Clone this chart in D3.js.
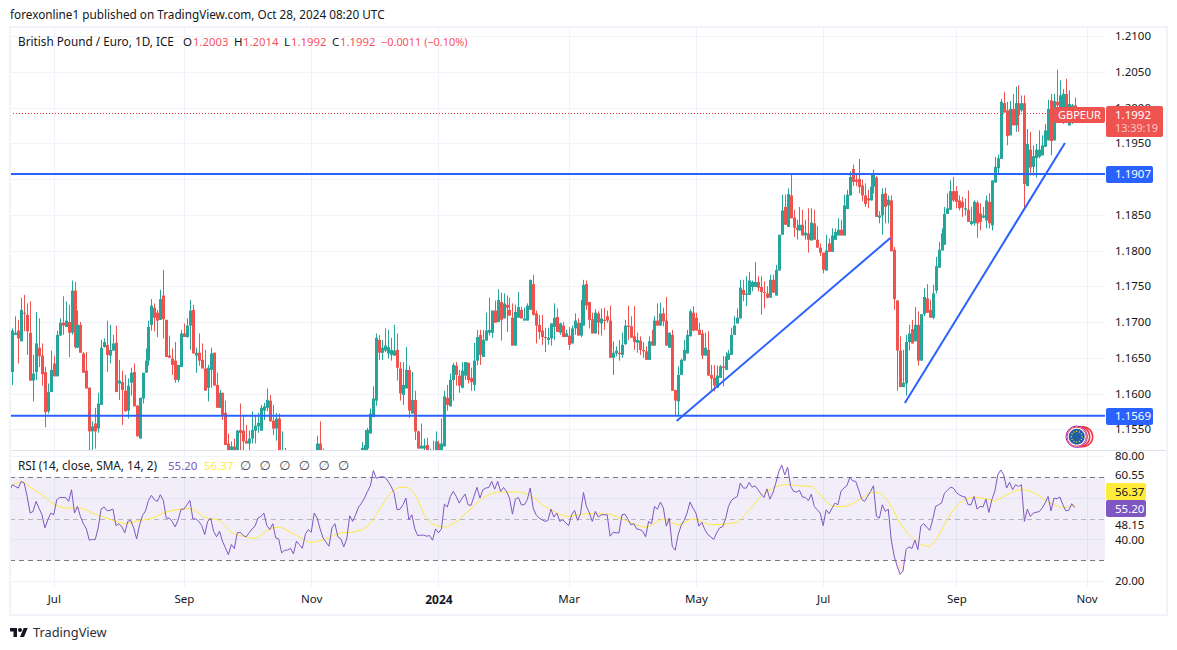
<!DOCTYPE html>
<html>
<head>
<meta charset="utf-8">
<script src="https://cdn.jsdelivr.net/npm/d3@7/dist/d3.min.js"></script>
<style>
  html, body { margin: 0; padding: 0; background: #fff; }
  svg { display: block; }
  text { font-family: "Noto Sans", "DejaVu Sans", sans-serif; }
</style>
</head>
<body>
<div id="chart"></div>
<script>
// daily candles (the ones under the pane edge are guesses)
const opens = [
  1.1688,1.1630,1.1682,1.1688,1.1673,1.1713,1.1710,1.1685,1.1618,1.1630,
  1.1664,1.1653,1.1630,1.1575,1.1602,1.1642,1.1624,1.1681,1.1699,1.1693,
  1.1700,1.1685,1.1744,1.1664,1.1696,1.1656,1.1632,1.1608,1.1547,1.1558,
  1.1551,1.1584,1.1665,1.1668,1.1653,1.1660,1.1671,1.1614,1.1616,1.1604,
  1.1576,1.1615,1.1630,1.1583,1.1537,1.1593,1.1629,1.1646,1.1696,1.1720,
  1.1713,1.1703,1.1737,1.1703,1.1653,1.1649,1.1646,1.1619,1.1637,1.1684,
  1.1679,1.1695,1.1717,1.1653,1.1657,1.1647,1.1635,1.1608,1.1633,1.1657,
  1.1612,1.1580,1.1601,1.1573,1.1530,1.1519,1.1526,1.1519,1.1549,1.1548,
  1.1534,1.1530,1.1537,1.1548,1.1554,1.1548,1.1576,1.1580,1.1590,1.1562,
  1.1551,1.1565,1.1510,1.1515,1.1500,1.1495,1.1505,1.1500,1.1485,1.1492,
  1.1488,1.1498,1.1490,1.1508,1.1515,1.1530,1.1512,1.1500,1.1495,1.1505,
  1.1500,1.1492,1.1498,1.1503,1.1496,1.1501,1.1507,1.1502,1.1506,1.1512,
  1.1519,1.1523,1.1544,1.1567,1.1590,1.1675,1.1657,1.1660,1.1656,1.1654,
  1.1653,1.1661,1.1635,1.1598,1.1607,1.1633,1.1572,1.1591,1.1547,1.1523,
  1.1523,1.1528,1.1510,1.1520,1.1519,1.1530,1.1519,1.1526,1.1594,1.1582,
  1.1619,1.1639,1.1625,1.1608,1.1625,1.1643,1.1622,1.1612,1.1646,1.1682,
  1.1651,1.1674,1.1685,1.1685,1.1716,1.1700,1.1728,1.1705,1.1724,1.1717,
  1.1706,1.1667,1.1706,1.1717,1.1702,1.1702,1.1717,1.1753,1.1712,1.1696,
  1.1688,1.1679,1.1675,1.1677,1.1693,1.1707,1.1685,1.1695,1.1679,1.1681,
  1.1670,1.1691,1.1699,1.1681,1.1695,1.1753,1.1728,1.1704,1.1684,1.1712,
  1.1698,1.1703,1.1708,1.1702,1.1650,1.1656,1.1657,1.1654,1.1669,1.1695,
  1.1694,1.1680,1.1671,1.1674,1.1661,1.1659,1.1647,1.1673,1.1667,1.1702,
  1.1695,1.1712,1.1702,1.1664,1.1682,1.1605,1.1589,1.1626,1.1646,1.1656,
  1.1680,1.1713,1.1706,1.1689,1.1684,1.1653,1.1661,1.1626,1.1622,1.1608,
  1.1622,1.1638,1.1633,1.1647,1.1654,1.1682,1.1698,1.1705,1.1745,1.1738,
  1.1738,1.1749,1.1749,1.1756,1.1749,1.1742,1.1740,1.1734,1.1759,1.1737,
  1.1772,1.1822,1.1861,1.1833,1.1877,1.1846,1.1832,1.1828,1.1836,1.1821,
  1.1824,1.1814,1.1838,1.1815,1.1804,1.1797,1.1772,1.1810,1.1798,1.1815,
  1.1821,1.1829,1.1821,1.1858,1.1877,1.1914,1.1899,1.1900,1.1891,1.1877,
  1.1873,1.1870,1.1889,1.1902,1.1846,1.1849,1.1880,1.1863,1.1870,1.1801,
  1.1730,1.1660,1.1609,1.1614,1.1672,1.1690,1.1673,1.1696,1.1646,1.1711,
  1.1733,1.1717,1.1706,1.1744,1.1776,1.1800,1.1808,1.1851,1.1857,1.1883,
  1.1883,1.1870,1.1868,1.1857,1.1857,1.1837,1.1838,1.1867,1.1852,1.1846,
  1.1842,1.1868,1.1835,1.1895,1.1915,1.1928,1.2006,1.1996,1.1961,1.1998,
  1.1975,1.2006,1.1996,1.2006,1.1890,1.1941,1.1917,1.1929,1.1931,1.1933,
  1.1945,1.1954,1.2010,1.1954,1.2008,1.1989,1.1996,1.2019,1.1975,1.1980,1.2003
];
const highs = [
  1.1691,1.1691,1.1708,1.1703,1.1734,1.1738,1.1726,1.1729,1.1654,1.1714,
  1.1705,1.1670,1.1637,1.1614,1.1660,1.1653,1.1688,1.1705,1.1736,1.1729,
  1.1724,1.1758,1.1756,1.1716,1.1700,1.1658,1.1658,1.1609,1.1561,1.1580,
  1.1601,1.1675,1.1677,1.1702,1.1696,1.1682,1.1695,1.1647,1.1632,1.1626,
  1.1621,1.1636,1.1642,1.1584,1.1594,1.1629,1.1663,1.1702,1.1732,1.1726,
  1.1717,1.1745,1.1773,1.1703,1.1681,1.1663,1.1672,1.1640,1.1689,1.1698,
  1.1705,1.1731,1.1724,1.1664,1.1684,1.1670,1.1661,1.1640,1.1664,1.1657,
  1.1629,1.1605,1.1601,1.1590,1.1544,1.1533,1.1537,1.1549,1.1586,1.1570,
  1.1556,1.1548,1.1575,1.1569,1.1573,1.1584,1.1587,1.1607,1.1598,1.1584,
  1.1573,1.1572,1.1547,1.1524,1.1515,1.1512,1.1518,1.1510,1.1500,1.1510,
  1.1505,1.1512,1.1512,1.1519,1.1541,1.1561,1.1523,1.1515,1.1510,1.1517,
  1.1512,1.1505,1.1513,1.1516,1.1508,1.1514,1.1518,1.1514,1.1518,1.1532,
  1.1549,1.1552,1.1579,1.1610,1.1684,1.1682,1.1675,1.1691,1.1689,1.1678,
  1.1696,1.1684,1.1644,1.1644,1.1665,1.1639,1.1630,1.1604,1.1548,1.1558,
  1.1537,1.1538,1.1523,1.1534,1.1547,1.1534,1.1565,1.1604,1.1612,1.1628,
  1.1643,1.1644,1.1633,1.1644,1.1644,1.1643,1.1636,1.1671,1.1689,1.1689,
  1.1689,1.1713,1.1734,1.1716,1.1730,1.1746,1.1741,1.1740,1.1737,1.1734,
  1.1726,1.1724,1.1742,1.1721,1.1720,1.1726,1.1759,1.1766,1.1716,1.1710,
  1.1710,1.1692,1.1692,1.1698,1.1726,1.1719,1.1699,1.1700,1.1689,1.1693,
  1.1695,1.1712,1.1705,1.1731,1.1759,1.1758,1.1728,1.1713,1.1718,1.1715,
  1.1719,1.1720,1.1716,1.1723,1.1673,1.1666,1.1675,1.1685,1.1703,1.1723,
  1.1708,1.1722,1.1685,1.1680,1.1672,1.1666,1.1680,1.1689,1.1708,1.1726,
  1.1727,1.1720,1.1735,1.1685,1.1689,1.1605,1.1638,1.1649,1.1675,1.1689,
  1.1718,1.1722,1.1713,1.1699,1.1689,1.1685,1.1687,1.1640,1.1640,1.1639,
  1.1640,1.1652,1.1658,1.1661,1.1692,1.1708,1.1719,1.1759,1.1759,1.1764,
  1.1770,1.1758,1.1784,1.1764,1.1764,1.1757,1.1750,1.1766,1.1766,1.1780,
  1.1822,1.1878,1.1878,1.1887,1.1907,1.1857,1.1843,1.1861,1.1857,1.1843,
  1.1859,1.1859,1.1857,1.1834,1.1810,1.1797,1.1822,1.1817,1.1831,1.1831,
  1.1845,1.1843,1.1878,1.1885,1.1911,1.1920,1.1908,1.1928,1.1899,1.1894,
  1.1885,1.1906,1.1913,1.1904,1.1855,1.1887,1.1888,1.1877,1.1877,1.1805,
  1.1731,1.1680,1.1661,1.1682,1.1696,1.1703,1.1721,1.1715,1.1711,1.1747,
  1.1753,1.1731,1.1752,1.1791,1.1812,1.1831,1.1861,1.1880,1.1898,1.1903,
  1.1890,1.1877,1.1875,1.1873,1.1884,1.1861,1.1870,1.1870,1.1866,1.1861,
  1.1877,1.1880,1.1898,1.1931,1.1934,1.2012,1.2022,1.2008,1.2009,1.2019,
  1.2029,1.2031,1.2017,1.2017,1.1970,1.1966,1.1947,1.1949,1.1968,1.1961,
  1.1977,1.2011,1.2019,1.2019,1.2053,1.2038,1.2026,1.2040,1.2024,1.2005,1.2014
];
const lows = [
  1.1629,1.1612,1.1682,1.1642,1.1673,1.1687,1.1654,1.1618,1.1589,1.1619,
  1.1637,1.1611,1.1553,1.1572,1.1602,1.1624,1.1624,1.1681,1.1682,1.1693,
  1.1651,1.1682,1.1663,1.1664,1.1657,1.1629,1.1607,1.1519,1.1519,1.1523,
  1.1545,1.1584,1.1664,1.1630,1.1642,1.1660,1.1602,1.1591,1.1556,1.1575,
  1.1565,1.1597,1.1582,1.1540,1.1537,1.1586,1.1629,1.1639,1.1688,1.1687,
  1.1679,1.1703,1.1677,1.1651,1.1650,1.1626,1.1615,1.1616,1.1637,1.1679,
  1.1678,1.1661,1.1656,1.1629,1.1639,1.1635,1.1604,1.1589,1.1608,1.1611,
  1.1580,1.1580,1.1563,1.1528,1.1517,1.1517,1.1517,1.1517,1.1521,1.1517,
  1.1530,1.1517,1.1530,1.1530,1.1545,1.1548,1.1563,1.1575,1.1561,1.1542,
  1.1534,1.1517,1.1500,1.1490,1.1490,1.1480,1.1490,1.1478,1.1470,1.1482,
  1.1478,1.1485,1.1480,1.1495,1.1505,1.1510,1.1495,1.1490,1.1482,1.1495,
  1.1488,1.1480,1.1488,1.1492,1.1484,1.1490,1.1496,1.1490,1.1495,1.1500,
  1.1510,1.1517,1.1544,1.1567,1.1583,1.1647,1.1647,1.1658,1.1649,1.1646,
  1.1653,1.1618,1.1590,1.1584,1.1607,1.1566,1.1572,1.1535,1.1523,1.1523,
  1.1517,1.1515,1.1500,1.1505,1.1510,1.1510,1.1512,1.1526,1.1576,1.1582,
  1.1590,1.1611,1.1601,1.1607,1.1619,1.1614,1.1604,1.1604,1.1640,1.1640,
  1.1651,1.1674,1.1681,1.1678,1.1699,1.1700,1.1674,1.1705,1.1686,1.1709,
  1.1667,1.1667,1.1706,1.1705,1.1702,1.1702,1.1717,1.1709,1.1670,1.1676,
  1.1668,1.1658,1.1668,1.1667,1.1675,1.1686,1.1682,1.1679,1.1679,1.1661,
  1.1670,1.1682,1.1681,1.1679,1.1695,1.1717,1.1691,1.1684,1.1684,1.1682,
  1.1681,1.1689,1.1699,1.1650,1.1626,1.1652,1.1646,1.1650,1.1668,1.1675,
  1.1678,1.1661,1.1657,1.1654,1.1650,1.1647,1.1647,1.1667,1.1667,1.1695,
  1.1695,1.1694,1.1667,1.1664,1.1604,1.1569,1.1569,1.1626,1.1646,1.1656,
  1.1680,1.1687,1.1688,1.1682,1.1648,1.1653,1.1625,1.1605,1.1603,1.1608,
  1.1622,1.1610,1.1633,1.1647,1.1654,1.1682,1.1698,1.1705,1.1729,1.1722,
  1.1738,1.1743,1.1749,1.1743,1.1710,1.1719,1.1733,1.1734,1.1741,1.1737,
  1.1772,1.1822,1.1836,1.1833,1.1845,1.1819,1.1815,1.1828,1.1821,1.1815,
  1.1797,1.1814,1.1815,1.1804,1.1792,1.1768,1.1772,1.1798,1.1798,1.1815,
  1.1821,1.1821,1.1821,1.1858,1.1877,1.1890,1.1890,1.1880,1.1869,1.1861,
  1.1859,1.1870,1.1880,1.1847,1.1838,1.1822,1.1838,1.1838,1.1799,1.1717,
  1.1604,1.1609,1.1609,1.1597,1.1660,1.1670,1.1673,1.1639,1.1646,1.1708,
  1.1713,1.1706,1.1704,1.1740,1.1776,1.1800,1.1808,1.1851,1.1857,1.1868,
  1.1859,1.1856,1.1847,1.1849,1.1840,1.1835,1.1835,1.1818,1.1828,1.1845,
  1.1831,1.1831,1.1828,1.1895,1.1908,1.1928,1.1993,1.1947,1.1961,1.1975,
  1.1966,1.1966,1.1994,1.1859,1.1890,1.1905,1.1905,1.1902,1.1929,1.1933,
  1.1945,1.1954,1.1933,1.1954,1.1989,1.1989,1.1977,1.1984,1.1975,1.1977,1.1992
];
const closes = [
  1.1631,1.1688,1.1685,1.1677,1.1717,1.1712,1.1687,1.1618,1.1628,1.1670,
  1.1652,1.1627,1.1574,1.1602,1.1633,1.1624,1.1682,1.1699,1.1695,1.1702,
  1.1685,1.1744,1.1665,1.1696,1.1657,1.1629,1.1607,1.1547,1.1554,1.1547,
  1.1586,1.1664,1.1672,1.1654,1.1661,1.1670,1.1602,1.1618,1.1605,1.1575,
  1.1611,1.1629,1.1582,1.1540,1.1594,1.1629,1.1646,1.1693,1.1723,1.1706,
  1.1702,1.1732,1.1704,1.1651,1.1650,1.1640,1.1619,1.1640,1.1684,1.1679,
  1.1695,1.1716,1.1656,1.1657,1.1646,1.1635,1.1604,1.1636,1.1656,1.1611,
  1.1580,1.1601,1.1570,1.1528,1.1519,1.1526,1.1519,1.1548,1.1545,1.1533,
  1.1530,1.1537,1.1549,1.1555,1.1559,1.1580,1.1582,1.1591,1.1561,1.1551,
  1.1565,1.1519,1.1515,1.1500,1.1495,1.1505,1.1500,1.1485,1.1492,1.1488,
  1.1498,1.1490,1.1508,1.1515,1.1530,1.1515,1.1500,1.1495,1.1505,1.1500,
  1.1492,1.1498,1.1503,1.1496,1.1501,1.1507,1.1502,1.1506,1.1512,1.1524,
  1.1528,1.1549,1.1572,1.1593,1.1678,1.1657,1.1664,1.1667,1.1665,1.1661,
  1.1660,1.1636,1.1600,1.1612,1.1633,1.1576,1.1591,1.1547,1.1523,1.1527,
  1.1527,1.1519,1.1518,1.1512,1.1533,1.1519,1.1530,1.1596,1.1584,1.1619,
  1.1640,1.1626,1.1611,1.1632,1.1644,1.1619,1.1616,1.1646,1.1679,1.1654,
  1.1675,1.1688,1.1689,1.1716,1.1699,1.1731,1.1703,1.1726,1.1720,1.1709,
  1.1667,1.1714,1.1721,1.1705,1.1705,1.1723,1.1759,1.1710,1.1695,1.1686,
  1.1679,1.1678,1.1678,1.1698,1.1706,1.1686,1.1698,1.1679,1.1684,1.1668,
  1.1691,1.1702,1.1681,1.1699,1.1752,1.1723,1.1703,1.1684,1.1713,1.1699,
  1.1705,1.1702,1.1702,1.1650,1.1657,1.1660,1.1655,1.1668,1.1695,1.1693,
  1.1678,1.1672,1.1675,1.1661,1.1659,1.1647,1.1673,1.1667,1.1702,1.1695,
  1.1712,1.1701,1.1667,1.1685,1.1604,1.1590,1.1626,1.1647,1.1661,1.1682,
  1.1715,1.1688,1.1688,1.1682,1.1653,1.1664,1.1625,1.1621,1.1611,1.1625,
  1.1638,1.1636,1.1652,1.1656,1.1682,1.1695,1.1706,1.1748,1.1738,1.1740,
  1.1758,1.1756,1.1756,1.1748,1.1742,1.1741,1.1734,1.1759,1.1741,1.1773,
  1.1822,1.1856,1.1836,1.1879,1.1845,1.1832,1.1829,1.1836,1.1821,1.1825,
  1.1815,1.1839,1.1815,1.1804,1.1797,1.1773,1.1800,1.1798,1.1821,1.1826,
  1.1829,1.1821,1.1863,1.1878,1.1903,1.1896,1.1896,1.1889,1.1877,1.1865,
  1.1870,1.1889,1.1906,1.1847,1.1849,1.1879,1.1861,1.1871,1.1799,1.1732,
  1.1660,1.1609,1.1615,1.1672,1.1684,1.1670,1.1696,1.1646,1.1711,1.1735,
  1.1713,1.1706,1.1740,1.1778,1.1801,1.1824,1.1851,1.1859,1.1883,1.1870,
  1.1868,1.1859,1.1860,1.1859,1.1840,1.1841,1.1868,1.1838,1.1840,1.1849,
  1.1870,1.1838,1.1898,1.1917,1.1929,1.2008,1.1993,1.1960,1.1998,1.1975,
  1.2006,1.1989,1.2006,1.1893,1.1949,1.1916,1.1932,1.1941,1.1941,1.1947,
  1.1968,1.1998,1.1953,1.2009,1.2003,1.2017,1.2019,1.1991,1.2005,1.2003,1.1992
];
const rsiValues = [
  63.0,66.2,65.4,64.6,67.8,67.0,60.6,52.6,53.4,58.2,
  55.0,51.8,45.5,49.4,52.6,51.8,59.0,60.1,60.1,60.1,
  58.2,63.8,52.6,55.8,51.0,47.5,45.0,39.6,39.9,39.9,
  45.5,54.5,55.5,53.7,53.9,54.5,46.6,47.5,46.0,43.1,
  48.6,49.1,45.5,40.2,47.0,51.5,53.7,58.7,61.1,59.0,
  58.2,61.4,58.7,50.2,50.2,48.6,46.0,49.1,54.5,54.5,
  56.6,58.7,49.8,49.8,48.6,46.6,42.3,48.6,50.2,43.9,
  41.2,43.9,39.1,35.9,32.6,37.5,35.6,43.1,43.4,41.8,
  41.2,43.1,45.0,46.3,50.2,51.0,52.6,46.6,44.7,47.5,
  40.7,40.2,33.5,34.8,34.8,35.7,33.0,39.1,37.5,35.7,
  42.3,44.7,43.4,52.6,50.2,45.0,40.7,38.6,36.7,45.5,
  47.5,41.2,40.2,36.4,40.2,51.3,48.6,51.8,55.5,57.4,
  59.8,63.0,65.7,73.0,69.3,69.8,70.1,69.7,67.8,65.4,
  62.2,54.2,54.5,56.6,59.8,49.4,51.8,45.0,41.8,42.0,
  42.0,41.5,41.8,39.6,45.0,43.1,45.0,56.9,55.5,60.6,
  63.0,60.6,57.4,59.8,61.7,56.6,56.3,60.6,65.0,59.8,
  63.8,64.6,64.9,67.8,64.1,67.8,63.0,64.9,63.0,59.8,
  52.1,59.3,60.1,56.6,56.6,59.0,64.6,55.0,51.8,50.2,
  49.4,48.6,49.1,54.5,50.7,52.6,48.6,49.4,47.9,46.6,
  51.8,53.9,49.1,52.3,62.5,55.8,52.6,48.6,53.4,50.7,
  51.8,51.8,51.8,41.5,43.4,43.1,43.1,51.8,52.1,49.8,
  47.0,47.5,45.0,44.7,43.9,41.2,48.6,47.5,55.8,54.5,
  57.9,55.0,46.3,50.2,36.7,34.8,42.3,46.6,49.1,52.6,
  57.9,55.0,52.6,46.3,48.2,44.7,42.3,41.2,39.9,43.1,
  45.5,46.0,49.8,55.8,58.7,59.8,60.6,67.0,64.6,64.6,
  67.3,65.0,65.7,63.8,61.7,60.1,64.2,59.3,62.2,67.0,
  72.5,75.7,70.9,74.6,65.4,63.0,62.7,63.5,60.3,60.1,
  58.5,61.7,55.8,54.2,52.6,46.6,54.2,52.3,55.0,57.4,
  56.6,63.0,64.6,65.7,69.7,68.1,67.8,63.8,59.3,58.2,
  60.6,63.0,65.7,51.0,50.2,56.6,53.4,54.5,39.9,31.9,
  27.1,23.2,24.8,35.1,36.4,35.6,39.6,35.1,46.3,47.5,
  45.9,44.3,49.4,55.8,56.6,57.4,62.2,63.5,65.0,64.6,
  62.5,61.4,60.6,60.3,56.6,56.6,60.6,54.5,55.8,55.5,
  59.3,52.9,59.0,63.0,70.9,73.3,70.9,64.6,67.4,63.8,
  66.2,65.4,66.2,48.6,54.5,51.0,52.6,53.0,53.3,55.0,
  57.4,60.6,53.7,59.8,59.5,60.3,56.6,53.7,53.9,57.1,55.2
];
// yellow SMA line, read at these bars only
const maBars = [0,4,8,11,15,20,24,28,33,37,39,44,47,53,58,61,66,71,75,79,83,87,91,95,100,102,107,112,116,121,125,130,
  132,134,138,140,143,147,150,155,160,166,171,175,182,189,195,202,209,215,221,226,231,237,246,249,253,256,263,
  266,271,273,276,279,282,289,292,295,298,301,303,306,308,311,313,316,319,323,326,329,333,336,342,346,350,353,356,360];
const maValues = [65.7,67.4,64.1,61.4,56.9,54.9,55.0,52.6,50.1,48.2,47.5,49.1,49.6,53.1,54.5,54.7,50.6,49.1,43.4,41.5,40.5,44.2,45.8,43.4,39.6,38.6,40.2,43.1,43.5,46.3,54.2,63.8,
  64.9,65.0,59.0,52.3,47.4,45.9,47.5,53.4,59.8,62.7,62.7,61.7,55.0,51.0,52.3,52.1,48.6,45.8,49.6,47.0,49.8,47.0,48.2,52.6,59.0,63.0,66.2,
  65.8,65.4,63.0,58.2,55.8,55.8,60.6,62.7,61.4,55.8,47.8,43.9,39.6,37.5,36.7,39.6,47.0,54.2,59.0,60.1,59.8,58.5,60.6,63.8,62.5,59.0,56.6,55.3,56.37];

const priceTicks = [1.21,1.205,1.2,1.195,1.185,1.18,1.175,1.17,1.165,1.16,1.155];
const priceGrid = [1.21,1.205,1.2,1.195,1.19,1.185,1.18,1.175,1.17,1.165,1.16,1.155];
const rsiGrid = [80,60,40,20];
const rsiBands = [70,50,30];
const rsiLabelAt = [80,70.9,46.8,40,20];
const rsiLabels = ["80.00","60.55","48.15","40.00","20.00"];
const timeBars = [15,59,102,145,189,232,275,320,364];
const timeLabels = ["Jul","Sep","Nov","2024","Mar","May","Jul","Sep","Nov"];
const levels = [1.1907,1.1569];
const trendLines = [
  [[225.5,1.15615],[297.7,1.18175]],
  [[302.6,1.15867],[356.7,1.19503]]
];
const lastClose = 1.1992;

const width = 1177, height = 650;
const paneL = 10, paneR = 1105, frameR = 1167;
const up = "#26a69a", down = "#ef5350", blue = "#2962ff", purple = "#7e57c2", yellow = "#ffeb3b";
const gridColor = "#f0f3fa", ink = "#131722";

const svg = d3.select("#chart").append("svg").attr("width", width).attr("height", height);

const x = d3.scaleLinear().domain([0, 360]).range([9.4, 1074.7]);
const y = d3.scaleLinear().domain([1.21, 1.155]).range([36, 429.25]);
const yRsi = d3.scaleLinear().domain([80, 20]).range([456, 581]);

const defs = svg.append("defs");
defs.append("clipPath").attr("id", "mainClip").append("rect")
  .attr("x", paneL).attr("y", 27).attr("width", paneR - paneL).attr("height", 423);
defs.append("clipPath").attr("id", "rsiClip").append("rect")
  .attr("x", paneL).attr("y", 451).attr("width", paneR - paneL).attr("height", 136);
defs.append("clipPath").attr("id", "oversold").append("rect")
  .attr("x", paneL).attr("y", yRsi(30)).attr("width", paneR - paneL).attr("height", 40);

// grid
svg.append("g").selectAll("line").data(timeBars).enter().append("line")
  .attr("x1", d => Math.round(x(d)) + 0.5).attr("x2", d => Math.round(x(d)) + 0.5)
  .attr("y1", 27).attr("y2", 587).attr("stroke", gridColor);
svg.append("g").selectAll("line").data(priceGrid).enter().append("line")
  .attr("x1", paneL).attr("x2", paneR)
  .attr("y1", d => Math.round(y(d)) + 0.5).attr("y2", d => Math.round(y(d)) + 0.5)
  .attr("stroke", gridColor);
svg.append("g").selectAll("line").data(rsiGrid).enter().append("line")
  .attr("x1", paneL).attr("x2", paneR)
  .attr("y1", d => Math.round(yRsi(d)) + 0.5).attr("y2", d => Math.round(yRsi(d)) + 0.5)
  .attr("stroke", gridColor);

// candles
const main = svg.append("g").attr("clip-path", "url(#mainClip)");
const bars = d3.range(opens.length);
main.selectAll(".wick").data(bars).enter().append("rect")
  .attr("class", "wick")
  .attr("x", i => Math.round(x(i)))
  .attr("width", 1)
  .attr("y", i => y(highs[i]))
  .attr("height", i => Math.max(1, y(lows[i]) - y(highs[i])))
  .attr("fill", i => closes[i] >= opens[i] ? up : down);
main.selectAll(".body").data(bars).enter().append("rect")
  .attr("class", "body")
  .attr("x", i => Math.round(x(i)) - 1)
  .attr("width", 3)
  .attr("y", i => y(Math.max(opens[i], closes[i])))
  .attr("height", i => Math.max(1, Math.abs(y(opens[i]) - y(closes[i]))))
  .attr("fill", i => closes[i] >= opens[i] ? up : down);

// horizontal levels, last price line and trend lines
svg.append("g").selectAll("line").data(levels).enter().append("line")
  .attr("x1", paneL).attr("x2", paneR)
  .attr("y1", d => y(d)).attr("y2", d => y(d))
  .attr("stroke", blue).attr("stroke-width", 2);
svg.append("line")
  .attr("x1", paneL).attr("x2", paneR)
  .attr("y1", Math.round(y(lastClose)) + 0.5).attr("y2", Math.round(y(lastClose)) + 0.5)
  .attr("stroke", "#f23645").attr("stroke-dasharray", "1,2");
const trend = d3.line().x(d => x(d[0])).y(d => y(d[1]));
svg.append("g").selectAll("path").data(trendLines).enter().append("path")
  .attr("d", trend).attr("fill", "none").attr("stroke", blue).attr("stroke-width", 2);

// EU event marker
const eu = svg.append("g").attr("transform", "translate(1076.7,436.7)");
[6, 3].forEach(dx => {
  eu.append("circle").attr("cx", dx).attr("r", 10).attr("fill", "#fff").attr("stroke", "#f23645").attr("stroke-width", 1.5);
});
eu.append("circle").attr("r", 10.7).attr("fill", "#fff").attr("stroke", "#9c27b0").attr("stroke-width", 1);
eu.append("circle").attr("r", 9.6).attr("fill", "#fff").attr("stroke", "#f23645").attr("stroke-width", 1);
eu.append("circle").attr("r", 8).attr("fill", "#1e5fa8");
d3.range(12).forEach(k => {
  const a = k * Math.PI / 6;
  eu.append("circle").attr("cx", 5.4 * Math.cos(a)).attr("cy", 5.4 * Math.sin(a)).attr("r", 0.7).attr("fill", "#ffd21e");
});

// RSI pane
const rsiPane = svg.append("g").attr("clip-path", "url(#rsiClip)");
rsiPane.append("rect")
  .attr("x", paneL).attr("width", paneR - paneL)
  .attr("y", yRsi(70)).attr("height", yRsi(30) - yRsi(70))
  .attr("fill", purple).attr("fill-opacity", 0.1);
rsiPane.selectAll(".band").data(rsiBands).enter().append("line")
  .attr("x1", paneL).attr("x2", paneR)
  .attr("y1", d => Math.round(yRsi(d)) + 0.5).attr("y2", d => Math.round(yRsi(d)) + 0.5)
  .attr("stroke", "#787b86").attr("stroke-dasharray", "5,4")
  .attr("stroke-opacity", d => d === 50 ? 0.5 : 1);
const rsiArea = d3.area().x((d, i) => x(i)).y0(yRsi(30)).y1(d => yRsi(d));
rsiPane.append("path").datum(rsiValues)
  .attr("d", rsiArea).attr("fill", "#ef5350").attr("fill-opacity", 0.12)
  .attr("clip-path", "url(#oversold)");
const maLine = d3.line().x((d, i) => x(maBars[i])).y(d => yRsi(d)).curve(d3.curveMonotoneX);
rsiPane.append("path").datum(maValues)
  .attr("d", maLine).attr("fill", "none").attr("stroke", yellow).attr("stroke-width", 1);
const rsiLine = d3.line().x((d, i) => x(i)).y(d => yRsi(d));
rsiPane.append("path").datum(rsiValues)
  .attr("d", rsiLine).attr("fill", "none").attr("stroke", purple).attr("stroke-width", 1);

// axes
const priceAxis = d3.axisRight(y).tickValues(priceTicks).tickSize(0).tickPadding(0)
  .tickFormat(d => d.toFixed(4));
const gPrice = svg.append("g").attr("transform", "translate(1115,0)").call(priceAxis);
const rsiAxis = d3.axisRight(yRsi).tickValues(rsiLabelAt).tickSize(0).tickPadding(0)
  .tickFormat((d, i) => rsiLabels[i]);
const gRsi = svg.append("g").attr("transform", "translate(1115,0)").call(rsiAxis);
const timeAxis = d3.axisBottom(x).tickValues(timeBars).tickSize(0).tickPadding(0)
  .tickFormat((d, i) => timeLabels[i]);
const gTime = svg.append("g").attr("transform", "translate(0,595)").call(timeAxis);
[gPrice, gRsi, gTime].forEach(g => {
  g.select(".domain").remove();
  g.selectAll("text").attr("fill", ink).style("font-size", "11.5px").style("font-family", '"Noto Sans", sans-serif');
});
gTime.selectAll(".tick text").filter((d, i) => timeLabels[i] === "2024").style("font-weight", "700").style("font-size", "12px");

// frame, pane divider
svg.append("line").attr("x1", paneL).attr("x2", frameR).attr("y1", 450.5).attr("y2", 450.5).attr("stroke", "#e0e3eb");
svg.append("rect").attr("x", paneL).attr("y", 27).attr("width", frameR - paneL).attr("height", 588)
  .attr("fill", "none").attr("stroke", "#f0f3fa").attr("stroke-width", 2);

// price tags
function tag(x0, y0, w, h, fill) {
  svg.append("rect").attr("x", x0).attr("y", y0).attr("width", w).attr("height", h).attr("rx", 2).attr("fill", fill);
}
function label(txt, xx, yy, color, size) {
  return svg.append("text").attr("x", xx).attr("y", yy).attr("fill", color)
    .style("font-size", (size || 11.5) + "px").text(txt);
}
tag(1054, 107, 51, 16, down);
tag(1106, 106, 57, 31, down);
label("GBPEUR", 1058, 119, "#fff", 11);
label("1.1992", 1115, 119, "#fff");
label("13:39:19", 1115, 132, "#fbc9c7", 10.8);
levels.forEach(d => {
  tag(1106, Math.round(y(d)) - 8, 47, 17, blue);
  label(d.toFixed(4), 1115, Math.round(y(d)) + 4, "#fff");
});
tag(1106, 483, 40, 17, yellow);
label("56.37", 1115, 496, ink);
tag(1106, 500, 40, 17, purple);
label("55.20", 1115, 513, "#fff");

// header and legends
label("forexonline1 published on TradingView.com, Oct 28, 2024 08:20 UTC", 10, 19, ink, 11.75);
label("British Pound / Euro, 1D, ICE", 18, 46, ink, 11.75);
[["O", 183], ["H", 234], ["L", 284], ["C", 332]].forEach(d => label(d[0], d[1], 46, ink, 11.5));
[["1.2003", 193], ["1.2014", 243], ["1.1992", 291], ["1.1992", 340]]
  .forEach(d => label(d[0], d[1], 46, "#f7525f", 11.3));
label("\u22120.0011 (\u22120.10%)", 381, 46, "#f7525f", 10.9);
label("RSI (14, close, SMA, 14, 2)", 18, 470, ink, 11.75);
label("55.20", 168, 470, purple, 11.5);
label("56.37", 204, 470, yellow, 11.5);
d3.range(6).forEach(k => label("\u2205", 240 + k * 19.6, 470, "#434651", 13).style("font-family", '"DejaVu Sans", sans-serif'));

// TradingView mark
const logo = svg.append("g").attr("transform", "translate(10,626) scale(0.5)").attr("fill", ink);
logo.append("path").attr("d", "M14 22H7V11H0V4h14v18zM28 22h-8l7.5-18h8L28 22z");
logo.append("circle").attr("cx", 20).attr("cy", 8).attr("r", 4);
label("TradingView", 33, 637, "#2a2e39", 12.8);
</script>
</body>
</html>
